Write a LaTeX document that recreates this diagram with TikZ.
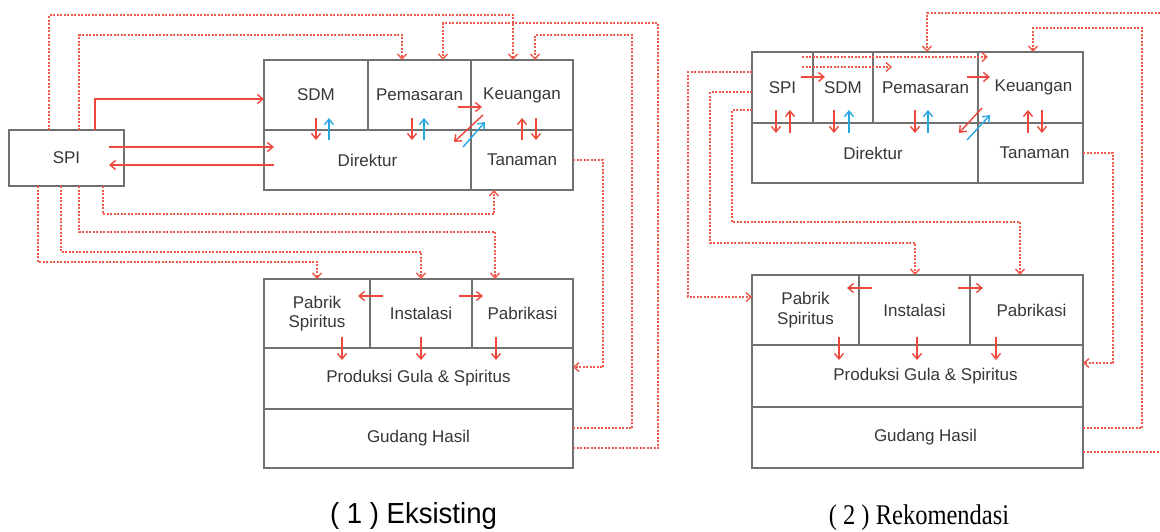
\documentclass[tikz,border=0pt]{standalone}
\usepackage{fontspec}
\setmainfont{Liberation Sans}
\newfontfamily\capserif{Liberation Serif}
\usetikzlibrary{arrows.meta,calc}
\definecolor{redc}{RGB}{236,72,60}
\definecolor{redd}{RGB}{240,88,76}
\definecolor{bluec}{RGB}{40,168,224}
\definecolor{boxc}{RGB}{112,112,112}
\definecolor{txtc}{RGB}{55,55,55}
\newcommand\cellnode[6]{%
  \pgfmathsetmacro\cw{#4-#2}\pgfmathsetmacro\ch{#5-#3}%
  \pgfmathsetmacro\cx{(#2+#4)/2}\pgfmathsetmacro\cy{(#3+#5)/2}%
  \node[cellbox, minimum width=\cw pt, minimum height=\ch pt] (#1) at (\cx,\cy) {#6};}
\begin{document}
\begin{tikzpicture}[x=1pt,y=-1pt,
 cellbox/.style={draw=boxc, line width=1.5pt, inner sep=0pt, outer sep=0pt, align=center,
   font=\fontsize{17}{19.5}\selectfont, text=txtc},
 sar/.style={draw=redc, line width=1.4pt, -{Straight Barb[length=5.5pt,width=9pt]}},
 sab/.style={sar, draw=bluec},
 dotl/.style={draw=redd, line width=2.2pt, dash pattern=on 2pt off 1.5pt},
 dota/.style={dotl, -{Straight Barb[length=5pt,width=9pt,line width=1.4pt]}},
 captxt/.style={inner sep=0pt, text=black}]
\fill[white] (0,0) rectangle (1160,531);
\useasboundingbox (0,0) rectangle (1160,531);

% ---------- left diagram ----------
\cellnode{spiL}{9}{130}{124}{186}{SPI}
\cellnode{sdmL}{264}{60}{368}{130}{SDM}
\cellnode{pemL}{368}{60}{471}{130}{Pemasaran}
\cellnode{keuL}{471}{60}{573}{130}{Keuangan}
\cellnode{dirL}{264}{130}{471}{190}{Direktur}
\cellnode{tanL}{471}{130}{573}{190}{Tanaman}
\cellnode{pabL}{264}{279}{370}{348}{Pabrik\\Spiritus}
\cellnode{insL}{370}{279}{472}{348}{Instalasi}
\cellnode{fabL}{472}{279}{573}{348}{Pabrikasi}
\cellnode{proL}{264}{348}{573}{409}{Produksi Gula \& Spiritus}
\cellnode{gudL}{264}{409}{573}{468}{Gudang Hasil}

\draw[sar] (spiL.north -| 95,0) |- (sdmL.west |- 0,99);
\draw[sar] ($(spiL.east)+(-15,-11)$) -- ($(dirL.west)+(10,-13)$);
\draw[sar] ($(dirL.west)+(10,5)$) -- ($(spiL.east)+(-15,7)$);

\draw[sar] ($(sdmL.south)+(0,-12)$) -- ($(sdmL.south)+(0,10)$);
\draw[sab] ($(sdmL.south)+(13,10)$) -- ($(sdmL.south)+(13,-12)$);
\draw[sar] ($(pemL.south)+(-7.5,-12)$) -- ($(pemL.south)+(-7.5,10)$);
\draw[sab] ($(pemL.south)+(4.5,10)$) -- ($(pemL.south)+(4.5,-12)$);
\draw[sar] ($(keuL.south)+(0,10)$) -- ($(keuL.south)+(0,-12)$);
\draw[sar] ($(keuL.south)+(14,-12)$) -- ($(keuL.south)+(14,10)$);
\draw[sar] ($(keuL.west)+(-13,12)$) -- ($(keuL.west)+(11,12)$);
\draw[sar] ($(keuL.south west)+(12,-15)$) -- ($(keuL.south west)+(-17,12)$);
\draw[sab] ($(keuL.south west)+(-8,17)$) -- ($(keuL.south west)+(14,-8)$);

\draw[sar] ($(insL.north west)+(13,17)$) -- ($(insL.north west)+(-12,17)$);
\draw[sar] ($(insL.north east)+(-13,17)$) -- ($(insL.north east)+(11,17)$);
\draw[sar] ($(pabL.south)+(25,-11)$) -- ($(pabL.south)+(25,12)$);
\draw[sar] ($(insL.south)+(0,-11)$) -- ($(insL.south)+(0,12)$);
\draw[sar] ($(fabL.south)+(-26.5,-11)$) -- ($(fabL.south)+(-26.5,12)$);

\draw[dota] (spiL.north -| 49,0) |- (513,15) -- (keuL.north -| 513,0);
\draw[dota] (spiL.north -| 79,0) |- (402,35) -- (pemL.north -| 402,0);
\draw[dota] (gudL.east |- 0,448) -| (658,23) -| (pemL.north -| 443,0);
\draw[dota] (gudL.east |- 0,428) -| (632,35) -| (keuL.north -| 535,0);
\draw[dota] (tanL.east) -- (603,160) |- (proL.east |- 0,367);
\draw[dota] (spiL.south -| 103,0) |- (494,214) -- (tanL.south -| 494,0);
\draw[dota] (spiL.south -| 79,0) |- (495,232) -- (fabL.north -| 495,0);
\draw[dota] (spiL.south -| 61,0) |- (421,252) -- (insL.north -| 421,0);
\draw[dota] (spiL.south -| 38,0) |- (317,262) -- (pabL.north -| 317,0);

% ---------- right diagram ----------
\cellnode{spiR}{752}{52}{813}{123}{SPI}
\cellnode{sdmR}{813}{52}{873}{123}{SDM}
\cellnode{pemR}{873}{52}{978}{123}{Pemasaran}
\cellnode{keuR}{978}{52}{1083}{123}{\hspace*{6pt}Keuangan}
\cellnode{dirR}{752}{123}{978}{183}{\hspace*{16pt}Direktur}
\cellnode{tanR}{978}{123}{1083}{183}{\hspace*{8pt}Tanaman}
\cellnode{pabR}{752}{275}{859}{345}{Pabrik\\Spiritus}
\cellnode{insR}{859}{275}{970}{345}{Instalasi}
\cellnode{fabR}{970}{275}{1083}{345}{\hspace*{10pt}Pabrikasi}
\cellnode{proR}{752}{345}{1083}{407}{\hspace*{16pt}Produksi Gula \& Spiritus}
\cellnode{gudR}{752}{407}{1083}{468}{\hspace*{16pt}Gudang Hasil}

\draw[sar] ($(sdmR.west)+(-12,-10.5)$) -- ($(sdmR.west)+(12,-10.5)$);
\draw[sar] ($(keuR.west)+(-11,-10.5)$) -- ($(keuR.west)+(12,-10.5)$);
\draw[sar] ($(spiR.south)+(-6.5,-13)$) -- ($(spiR.south)+(-6.5,10)$);
\draw[sar] ($(spiR.south)+(7.5,10)$) -- ($(spiR.south)+(7.5,-13)$);
\draw[sar] ($(sdmR.south)+(-9,-13)$) -- ($(sdmR.south)+(-9,10)$);
\draw[sab] ($(sdmR.south)+(6,10)$) -- ($(sdmR.south)+(6,-13)$);
\draw[sar] ($(pemR.south)+(-10.5,-13)$) -- ($(pemR.south)+(-10.5,10)$);
\draw[sab] ($(pemR.south)+(2.5,10)$) -- ($(pemR.south)+(2.5,-13)$);
\draw[sar] ($(keuR.south west)+(4,-15)$) -- ($(keuR.south west)+(-19,10)$);
\draw[sab] ($(keuR.south west)+(-11,17)$) -- ($(keuR.south west)+(12,-8)$);
\draw[sar] ($(keuR.south)+(-2.5,10)$) -- ($(keuR.south)+(-2.5,-13)$);
\draw[sar] ($(keuR.south)+(11.5,-13)$) -- ($(keuR.south)+(11.5,10)$);

\draw[sar] ($(insR.north west)+(13,13)$) -- ($(insR.north west)+(-12,13)$);
\draw[sar] ($(insR.north east)+(-12,13)$) -- ($(insR.north east)+(13,13)$);
\draw[sar] ($(pabR.south)+(33.5,-8)$) -- ($(pabR.south)+(33.5,15)$);
\draw[sar] ($(insR.south)+(2.5,-8)$) -- ($(insR.south)+(2.5,15)$);
\draw[sar] ($(fabR.south)+(-30.5,-8)$) -- ($(fabR.south)+(-30.5,15)$);

\coordinate (edgeT) at (1160,13);
\coordinate (edgeB) at (1160,452);
\draw[dota] ($(spiR.north east)+(-11,5)$) -- ($(keuR.north west)+(10,5)$);
\draw[dota] ($(spiR.north east)+(-11,15)$) -- ($(pemR.north west)+(19,15)$);
\draw[dota] (edgeT) -| (pemR.north -| 927,0);
\draw[dota] (gudR.east |- 0,428) -| (1142,28) -| (keuR.north -| 1033,0);
\draw[dotl] (gudR.east |- 0,452) -- (edgeB);
\draw[dota] (tanR.east) -- (1113,153) |- (proR.east |- 0,363);
\draw[dota] (spiR.west |- 0,72) -| (688,297) -- (pabR.west |- 0,297);
\draw[dota] (spiR.west |- 0,92) -| (710,243) -| (insR.north -| 915,0);
\draw[dota] (spiR.west |- 0,110) -| (732,222) -| (fabR.north -| 1020,0);

% ---------- captions ----------
\node[captxt, font=\fontsize{29}{32}\selectfont, xscale=0.95] (capA) at (413.5,516) {( 1 ) Eksisting};
\node[captxt, font=\capserif\fontsize{28.5}{31}\selectfont, xscale=0.86] (capB) at (919,518) {( 2 ) Rekomendasi};
\end{tikzpicture}
\end{document}
